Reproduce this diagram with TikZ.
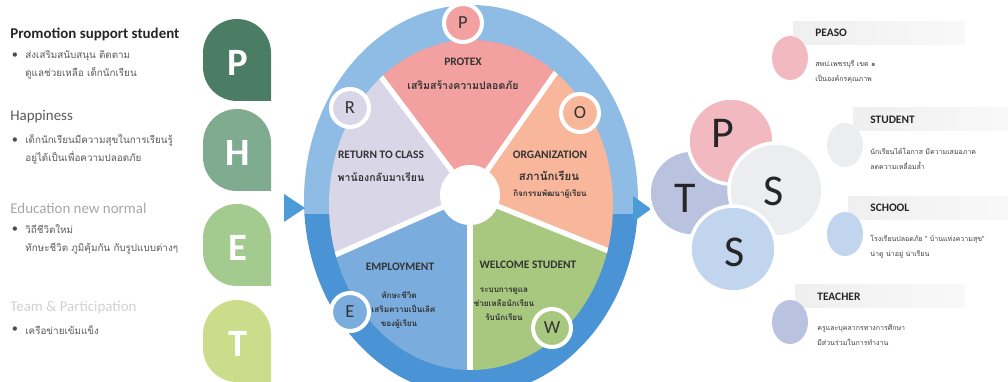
\documentclass[tikz,border=0pt]{standalone}
\usepackage{fontspec}
\setmainfont{Carlito}
\newfontfamily\thaifont[Script=Thai]{Loma}
\usepackage{tikz}

\definecolor{dropP}{HTML}{4A7D64}
\definecolor{dropH}{HTML}{7FAB8F}
\definecolor{dropE}{HTML}{A3CB90}
\definecolor{dropT}{HTML}{CBDD8A}
\definecolor{ringlight}{HTML}{8FBCE4}
\definecolor{ringdark}{HTML}{4A94D6}
\definecolor{protex}{HTML}{F2A0A0}
\definecolor{organ}{HTML}{F8B69B}
\definecolor{welcome}{HTML}{A8C77F}
\definecolor{employ}{HTML}{7AADDE}
\definecolor{retclass}{HTML}{D9D6E8}
\definecolor{arrowblue}{HTML}{4A9BD6}
\definecolor{ptsP}{HTML}{F2B9C1}
\definecolor{ptsT}{HTML}{B9C3E0}
\definecolor{ptsS}{HTML}{ECEDEF}
\definecolor{ptsSb}{HTML}{C2D5EF}
\definecolor{banner}{HTML}{EFEFEF}
\definecolor{inkdark}{HTML}{333333}

\begin{document}
\begin{tikzpicture}[x=0.2mm, y=0.2mm,
  heading/.style={anchor=west, inner sep=0pt, font=\fontsize{8.5}{10}\selectfont},
  bodytext/.style={anchor=west, inner sep=0pt, align=left, text=black!65,
    font=\thaifont\fontsize{5.6}{10.2}\selectfont},
  dot/.style={inner sep=0pt, text=black!70, font=\fontsize{7}{7}\selectfont},
  dropletter/.style={text=white, font=\bfseries\fontsize{22}{22}\selectfont},
  petaltitle/.style={inner sep=0pt, text=inkdark, font=\bfseries\fontsize{6.5}{7}\selectfont},
  petalthai/.style={inner sep=0pt, align=center, text=inkdark,
    font=\thaifont\bfseries\fontsize{6}{8.5}\selectfont},
  smallthai/.style={petalthai, font=\thaifont\bfseries\fontsize{4.6}{8}\selectfont},
  ringdot/.style={circle, draw=white, line width=2.3pt, minimum size=7.6mm,
    inner sep=0pt, text=inkdark, font=\fontsize{10.5}{10.5}\selectfont},
  ptsletter/.style={text=black!85, font=\fontsize{25}{25}\selectfont},
  listtitle/.style={anchor=west, inner sep=0pt, text=black!85, font=\bfseries\fontsize{6.5}{7}\selectfont},
  listthai/.style={anchor=west, inner sep=0pt, align=left, text=black!75,
    font=\thaifont\fontsize{4}{8.3}\selectfont}]

\useasboundingbox (0,0) rectangle (1008,-382);
\clip (0,0) rectangle (1008,-382);

% left column: letter drops
\foreach \yt/\col/\ltr in {19/dropP/P, 109/dropH/H, 204/dropE/E, 300/dropT/T} {
  \fill[\col] (271,-\yt-82) -- (271,-\yt-34) arc[start angle=0, end angle=180, radius=34]
    -- (203,-\yt-48) arc[start angle=180, end angle=270, radius=34] -- cycle;
  \node[dropletter] (drop\ltr) at (238,-\yt-44) {\ltr};
}

% left column: texts
\node[heading, font=\bfseries\fontsize{8.5}{10}\selectfont, text=black!85] (headP) at (10,-34) {Promotion support student};
\node[dot] (dotP) at (15,-56) {•};
\node[bodytext] (bodyP) at (25,-65) {ส่งเสริมสนับสนุน ติดตาม\\ดูแลช่วยเหลือ เด็กนักเรียน};

\node[heading, text=black!65] (headH) at (10,-117) {Happiness};
\node[dot] (dotH) at (15,-141) {•};
\node[bodytext] (bodyH) at (25,-149) {เด็กนักเรียนมีความสุขในการเรียนรู้\\อยู่ได้เป็นเพื่อความปลอดภัย};

\node[heading, text=black!35] (headE) at (10,-208) {Education new normal};
\node[dot] (dotE) at (15,-230) {•};
\node[bodytext] (bodyE) at (25,-239) {วิถีชีวิตใหม่\\ทักษะชีวิต ภูมิคุ้มกัน กับรูปแบบต่างๆ};

\node[heading, text=black!18] (headT) at (10,-308) {Team \& Participation};
\node[dot] (dotT) at (15,-330) {•};
\node[bodytext] (bodyT) at (25,-330) {เครือข่ายเข้มแข็ง};

% centre wheel
\begin{scope}
  \clip (0,0) rectangle (1008,-215);
  \fill[ringlight] (471,-200) ellipse [x radius=167, y radius=195];
\end{scope}
\begin{scope}
  \clip (0,-215) rectangle (1008,-382);
  \fill[ringdark] (471,-200) ellipse [x radius=167, y radius=195];
\end{scope}

\coordinate (hub) at (470,-195);
\begin{scope}
  \clip (471,-205) ellipse [x radius=142, y radius=165];
  \foreach \a/\b/\col in {55/127/protex, 127/204/retclass, 204/270/employ, 270/338/welcome, 338/415/organ}
    \fill[\col] (hub) -- +(\a:400) -- +({(\a+\b)/2}:400) -- +(\b:400) -- cycle;
  \foreach \a in {55,127,204,270,338}
    \draw[white, line width=3pt] (hub) -- +(\a:400);
\end{scope}
\fill[white] (hub) circle (30);

\node[petaltitle] (tProtex) at (463,-62) {PROTEX};
\node[petalthai] (sProtex) at (463,-85) {เสริมสร้างความปลอดภัย};
\node[petaltitle] (tReturn) at (381,-155) {RETURN TO CLASS};
\node[petalthai] (sReturn) at (381,-177) {พาน้องกลับมาเรียน};
\node[petaltitle] (tOrgan) at (550,-155) {ORGANIZATION};
\node[petalthai, font=\thaifont\bfseries\fontsize{6.5}{8}\selectfont] (sOrgan) at (549,-176) {สภานักเรียน};
\node[smallthai] (sOrganb) at (550,-194) {กิจกรรมพัฒนาผู้เรียน};
\node[petaltitle] (tEmploy) at (400,-267) {EMPLOYMENT};
\node[smallthai] (sEmploy) at (399,-310) {ทักษะชีวิต\\ส่งเสริมความเป็นเลิศ\\ของผู้เรียน};
\node[petaltitle] (tWelcome) at (528,-265) {WELCOME STUDENT};
\node[smallthai] (sWelcome) at (504,-304) {ระบบการดูแล\\ช่วยเหลือนักเรียน\\รับนักเรียน};

\node[ringdot, fill=protex] (ringP) at (463,-23) {P};
\node[ringdot, fill=retclass] (ringR) at (350,-108) {R};
\node[ringdot, fill=organ] (ringO) at (580,-113) {O};
\node[ringdot, fill=employ] (ringE) at (350,-312) {E};
\node[ringdot, fill=welcome] (ringW) at (552,-328) {W};

% arrow heads
\fill[arrowblue] (284,-194) -- (305,-208) -- (284,-222) -- cycle;
\fill[arrowblue] (633,-196) -- (651,-209) -- (633,-222) -- cycle;

% PTS cluster
\fill[ptsT, draw=white, line width=2pt] (692,-193) circle (43);
\fill[ptsP, draw=white, line width=2pt] (731,-141) circle (43);
\fill[ptsS, draw=white, line width=2pt] (776,-190) circle (47);
\fill[ptsSb, draw=white, line width=2pt] (733,-249) circle (43);
\node[ptsletter] (letP) at (723,-133) {P};
\node[ptsletter] (letT) at (685,-198) {T};
\node[ptsletter] (letS) at (774,-191) {S};
\node[ptsletter] (letSb) at (735,-252) {S};

% right list
\shade[left color=banner, right color=banner!40] (793,-22) rectangle (965,-45);
\fill[ptsP] (790,-58) ellipse [x radius=18, y radius=22];
\node[listtitle] (hPeaso) at (815,-33) {PEASO};
\node[listthai] (bPeaso) at (815,-72) {สพป.เพชรบุรี เขต ๑\\เป็นองค์กรคุณภาพ};

\shade[left color=banner, right color=banner!40] (853,-108) rectangle (1008,-131);
\fill[ptsS] (845,-145) ellipse [x radius=18, y radius=22];
\node[listtitle] (hStudent) at (870,-120) {STUDENT};
\node[listthai] (bStudent) at (870,-159) {นักเรียนได้โอกาส มีความเสมอภาค\\ลดความเหลื่อมล้ำ};

\shade[left color=banner, right color=banner!40] (848,-197) rectangle (1008,-220);
\fill[ptsSb] (845,-234) ellipse [x radius=18, y radius=22];
\node[listtitle] (hSchool) at (870,-208) {SCHOOL};
\node[listthai] (bSchool) at (870,-247) {โรงเรียนปลอดภัย " บ้านแห่งความสุข"\\น่าดู น่าอยู่ น่าเรียน};

\shade[left color=banner, right color=banner!40] (795,-285) rectangle (965,-308);
\fill[ptsT] (790,-322) ellipse [x radius=18, y radius=22];
\node[listtitle] (hTeacher) at (817,-297) {TEACHER};
\node[listthai] (bTeacher) at (817,-335) {ครูและบุคลากรทางการศึกษา\\มีส่วนร่วมในการทำงาน};
\end{tikzpicture}
\end{document}
